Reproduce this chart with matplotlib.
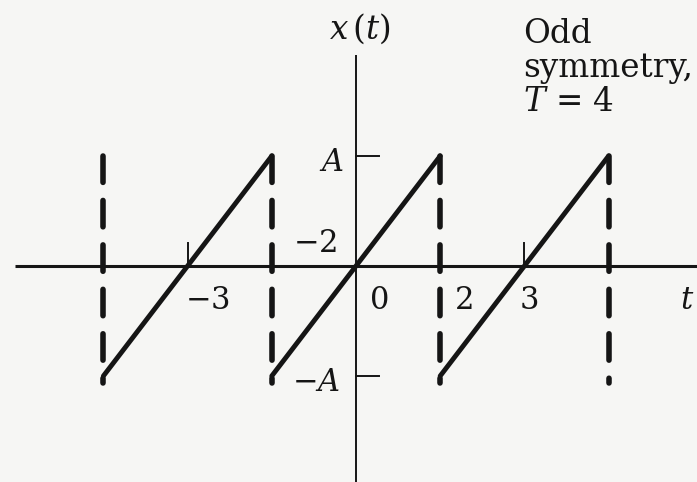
import matplotlib
matplotlib.use("Agg")
import matplotlib.pyplot as plt
import numpy as np

plt.rcParams['font.family'] = ['DejaVu Serif']
plt.rcParams['mathtext.fontset'] = 'dejavuserif'
plt.rcParams['lines.scale_dashes'] = False

# Sawtooth with odd symmetry, period T = 4, amplitude A
period = 4
amplitude = 1.0
ramp_starts = [-6, -2, 2]
ramp_ends = [-2, 2, 6]
jump_times = [-6, -2, 2, 6]
t_ticks = [-4, 4]
y_tick_values = [amplitude, -amplitude]
y_tick_labels = [r'$A$', r'$-A$']
t_labels = [r'$-$3', '0', '2', '3']
extra_label = r'$-$2'

ink = '#151515'
paper = '#f6f6f4'

fig = plt.figure(figsize=(6.97, 4.82), dpi=100, facecolor=paper)
ax = fig.add_axes([0, 0, 1, 1], facecolor=paper)
ax.set_xlim(-8.456, 8.1)
ax.set_ylim(-1.964, 2.418)
ax.axis('off')

# axes
ax.plot([-8.1, 8.2], [0, 0], color=ink, lw=2.2, solid_capstyle='butt')
ax.plot([0, 0], [-2.0, 1.92], color=ink, lw=1.4, solid_capstyle='butt')

# t-axis tick marks (upward only)
for tt in t_ticks:
    ax.plot([tt, tt], [0, 0.21], color=ink, lw=1.4)

# x-axis tick marks at +/-A (to the right of the axis)
for yv in y_tick_values:
    ax.plot([0, 0.55], [yv, yv], color=ink, lw=1.4)

# ramps
for s, e in zip(ramp_starts, ramp_ends):
    ts = np.array([s, e], dtype=float)
    ys = amplitude * (2 * (ts - s) / period - 1)
    ax.plot(ts, ys, color=ink, lw=3.5, solid_capstyle='round')

# dashed discontinuities
for tj in jump_times:
    ax.plot([tj, tj], [amplitude, -1.06 * amplitude], color=ink, lw=4.0,
            linestyle=(0, (19, 13)), dash_capstyle='round')

fs_lab = 22
fs_txt = 23.5

ax.text(0.095, 2.155, r'$x\,(t)$', fontsize=fs_txt, ha='center', va='center', color=ink)
ax.text(3.97, 2.03, 'Odd', fontsize=fs_txt, ha='left', va='baseline', color=ink)
ax.text(3.97, 1.72, 'symmetry,', fontsize=fs_txt, ha='left', va='baseline', color=ink)
ax.text(3.97, 1.41, r'$T$ = 4', fontsize=fs_txt, ha='left', va='baseline', color=ink)

ax.text(-0.59, 0.945, y_tick_labels[0], fontsize=fs_lab, ha='center', va='center', color=ink)
ax.text(-0.95, -1.06, y_tick_labels[1], fontsize=fs_lab, ha='center', va='center', color=ink)
ax.text(-0.97, 0.2, extra_label, fontsize=fs_lab, ha='center', va='center', color=ink)

t_label_pos = [-3.54, 0.57, 2.59, 4.11]
for lab, xp in zip(t_labels, t_label_pos):
    ax.text(xp, -0.31, lab, fontsize=fs_lab, ha='center', va='center', color=ink)
ax.text(7.86, -0.31, r'$t$', fontsize=fs_lab, ha='center', va='center', color=ink)

fig.savefig('out.png', dpi=100, facecolor=paper)
